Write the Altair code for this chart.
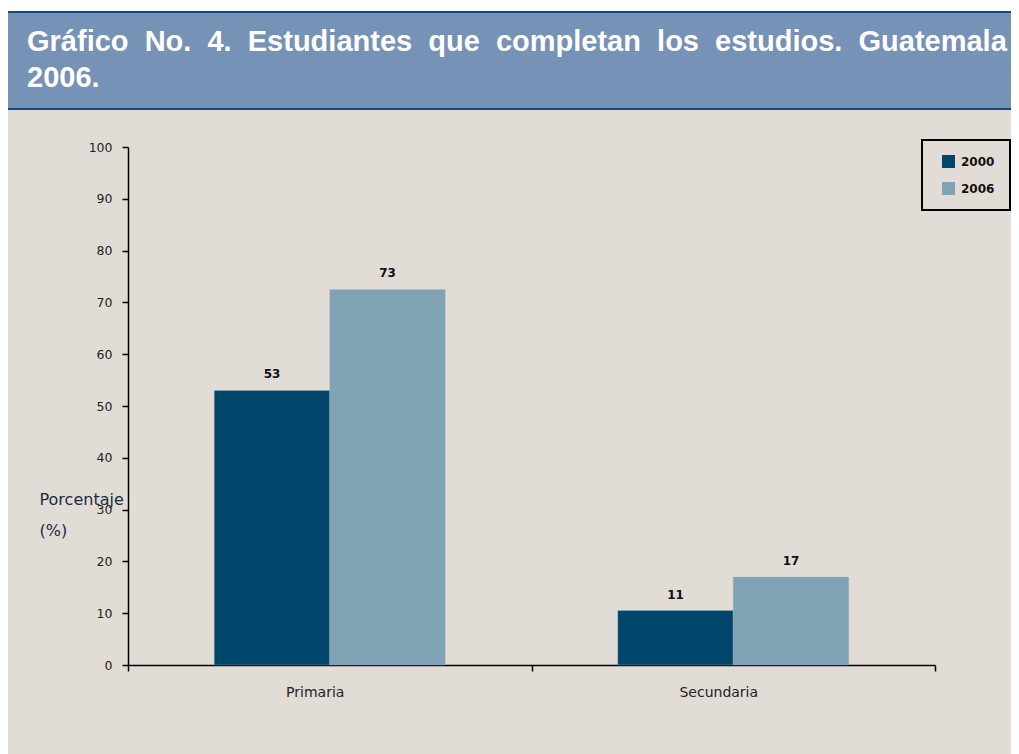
import altair as alt
import pandas as pd

# ---- data ----
categories = ["Primaria", "Secundaria"]
years = ["2000", "2006"]
values_2000 = [53.0, 10.5]
values_2006 = [72.5, 17.0]
labels_2000 = ["53", "11"]
labels_2006 = ["73", "17"]
y_ticks = [0, 10, 20, 30, 40, 50, 60, 70, 80, 90, 100]
title_words = ["Gráfico", "No.", "4.", "Estudiantes", "que", "completan", "los", "estudios.", "Guatemala"]
title_last = "2006."
axis_title = ["Porcentaje", "(%)"]
year_colors = ["#00466a", "#80a2b5"]

# slightly widened word gaps (the source line is justified)
GAP = "\u00a0" * 2
title_lines = [GAP.join(title_words), title_last]

rows = []
for i, c in enumerate(categories):
    rows.append({"categoria": c, "anio": years[0], "valor": values_2000[i], "etiqueta": labels_2000[i]})
    rows.append({"categoria": c, "anio": years[1], "valor": values_2006[i], "etiqueta": labels_2006[i]})
df = pd.DataFrame(rows)

BG = "#e2dcd6"
FONT = "Liberation Sans"
SMALL = "DejaVu Sans"

base = alt.Chart(df).encode(
    x=alt.X(
        "categoria:N",
        sort=categories,
        scale=alt.Scale(paddingInner=0, paddingOuter=0),
        axis=alt.Axis(
            title=None, labelAngle=0, tickBand="extent", domainColor="black",
            domainWidth=1.5, tickColor="black", tickWidth=1.5, tickSize=6,
            labelFontSize=14, labelColor="#222222", labelPadding=14, labelFont=SMALL,
            labelOffset=-15,
        ),
    ),
    xOffset=alt.XOffset("anio:N", sort=years, scale=alt.Scale(paddingInner=0, paddingOuter=0.747)),
    y=alt.Y(
        "valor:Q",
        scale=alt.Scale(domain=[0, 100], nice=False),
        axis=alt.Axis(
            values=y_ticks, grid=False, title=axis_title, titleAngle=0,
            titleX=-89, titleY=357, titleAlign="left", titleBaseline="alphabetic",
            titleLineHeight=31, titleFontSize=16, titleFontWeight="normal",
            titleColor="#1d2b3f", titleFont=SMALL,
            domainColor="black", domainWidth=1.5, tickColor="black", tickWidth=1.5,
            tickSize=6, labelFontSize=12.5, labelColor="#222222", labelPadding=10,
            labelFont=SMALL,
        ),
    ),
)

bars = base.mark_bar(stroke="#9fb8c6", strokeWidth=0.6, strokeOpacity=0.6).encode(
    color=alt.Color(
        "anio:N",
        sort=years,
        scale=alt.Scale(domain=years, range=year_colors),
        legend=alt.Legend(
            orient="none", legendX=794, legendY=-7, title=None,
            strokeColor="black", padding=15, symbolType="square", symbolOffset=5,
            symbolSize=169, symbolStrokeWidth=0, rowPadding=14, labelFontSize=12,
            labelFontWeight="bold", labelColor="#111111", labelOffset=6, labelFont=SMALL,
        ),
    )
)

labels = base.mark_text(
    dy=-12, fontSize=12, fontWeight="bold", color="#111111", baseline="alphabetic", font=SMALL
).encode(text="etiqueta:N")

banner_df = pd.DataFrame({"t": [0]})
top_strip = alt.Chart(banner_df).mark_rect(fill="white").encode(
    x=alt.value(-125), x2=alt.value(900), y=alt.value(-140), y2=alt.value(-135)
)
banner = alt.Chart(banner_df).mark_rect(
    fill="#7692b6", stroke="#1b4677", strokeWidth=2
).encode(x=alt.value(-125), x2=alt.value(900), y=alt.value(-135), y2=alt.value(-38))

title_text = alt.Chart(banner_df).mark_text(
    align="left", baseline="alphabetic", fontSize=29, fontWeight="bold",
    color="white", lineHeight=36, font=FONT,
).encode(x=alt.value(-101), y=alt.value(-96), text=alt.value(title_lines))

chart = alt.layer(top_strip, banner, title_text, bars, labels).properties(
    width=807,
    height=518,
    autosize=alt.AutoSizeParams(type="none"),
    padding={"left": 120, "top": 139, "right": 76, "bottom": 89},
).configure(background=BG).configure_view(stroke=None).configure_legend(strokeWidth=2)

chart.save("out.html", embed_options={"renderer": "svg", "actions": False})
